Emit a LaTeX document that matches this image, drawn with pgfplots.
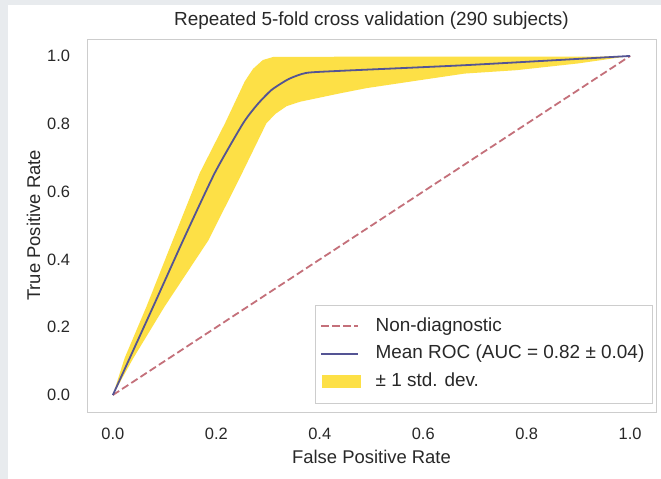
\documentclass[border=0pt]{standalone}
\usepackage{fontspec}
\setmainfont{Liberation Sans}
\usepackage{pgfplots}
\pgfplotsset{compat=1.18}
\definecolor{meanc}{RGB}{84,84,148}
\definecolor{bandc}{RGB}{253,224,70}
\definecolor{diagc}{RGB}{196,112,122}
\definecolor{framec}{RGB}{205,205,205}
\definecolor{bgc}{RGB}{232,235,238}
\definecolor{textc}{RGB}{40,40,40}
\begin{document}
\begin{tikzpicture}[x=1bp,y=1bp]
\fill[bgc] (-87,-67) rectangle (574,412);
\fill[white] (-79,-67) rectangle (574,407);
\begin{axis}[at={(0,0)}, anchor=south west, scale only axis,
  width=569bp, height=373bp,
  xmin=-0.05, xmax=1.05, ymin=-0.05, ymax=1.05,
  xtick={0,0.2,0.4,0.6,0.8,1.0}, ytick={0,0.2,0.4,0.6,0.8,1.0},
  /pgf/number format/.cd, fixed, fixed zerofill, precision=1, assume math mode=true, /pgfplots/.cd,
  tick style={draw=none},
  axis line style={draw=framec},
  tick label style={font=\fontsize{16.5}{18}\selectfont, text=textc},
  xticklabel style={yshift=-12.5bp},
  yticklabel style={xshift=-13.5bp},
  xlabel={False Positive Rate}, ylabel={True Positive Rate},
  label style={font=\fontsize{18.5}{21}\selectfont, text=textc},
  xlabel style={yshift=-4bp},
  title={Repeated 5-fold cross validation (290 subjects)},
  title style={font=\fontsize{19}{22}\selectfont, text=textc},
  legend cell align=left,
  legend style={at={(rel axis cs:0.993,0.024)}, anchor=south east,
    font=\fontsize{19}{22}\selectfont, text=textc, draw=framec,
    row sep=5.5bp, inner xsep=5.5bp, inner ysep=10.5bp,
    nodes={text height=14bp, text depth=4bp, inner ysep=2bp},
    /tikz/every odd column/.append style={column sep=13bp}},
  legend image code/.code={\draw[#1] (0bp,0bp) -- (37bp,0bp);},
]
\addlegendimage{diagc, line width=1.8bp, dash pattern=on 7.5bp off 3.5bp}
\addlegendentry{Non-diagnostic}
\addlegendimage{meanc, line width=1.8bp}
\addlegendentry{Mean ROC (AUC = 0.82 ± 0.04)}
\addlegendimage{legend image code/.code={\fill[bandc] (1bp,-6bp) rectangle (39bp,6bp);}}
\addlegendentry{± 1 std. dev.}

\addplot[diagc, line width=1.8bp, dash pattern=on 7.5bp off 3.5bp, forget plot] coordinates {(0,0) (1,1)};

% band: upper edge forward, lower edge backward
\addplot[fill=bandc, draw=none, forget plot] coordinates {
(0,0) (0.023,0.11) (0.065,0.261) (0.116,0.457) (0.168,0.655) (0.217,0.802) (0.255,0.925) (0.271,0.962) (0.29,0.988) (0.31,0.997) (0.5,0.998) (0.7,0.998) (0.94,0.998) (1.0,1.0)
(0.9,0.978) (0.78,0.958) (0.68,0.948) (0.6,0.93) (0.49,0.905) (0.44,0.89) (0.362,0.865) (0.336,0.852) (0.315,0.83) (0.297,0.802) (0.25,0.655) (0.185,0.457) (0.1,0.261) (0.04,0.11) (0,0)};

\addplot[meanc, line width=1.8bp, smooth, tension=0.35, forget plot] coordinates {
(0,0) (0.078,0.261) (0.136,0.457) (0.197,0.655) (0.252,0.802) (0.28,0.858) (0.307,0.90) (0.34,0.932) (0.374,0.95) (0.439,0.956) (0.684,0.973) (1,1)};
\end{axis}
\pgfresetboundingbox
\path[use as bounding box] (-87,-67) rectangle (574,412);
\end{tikzpicture}
\end{document}
